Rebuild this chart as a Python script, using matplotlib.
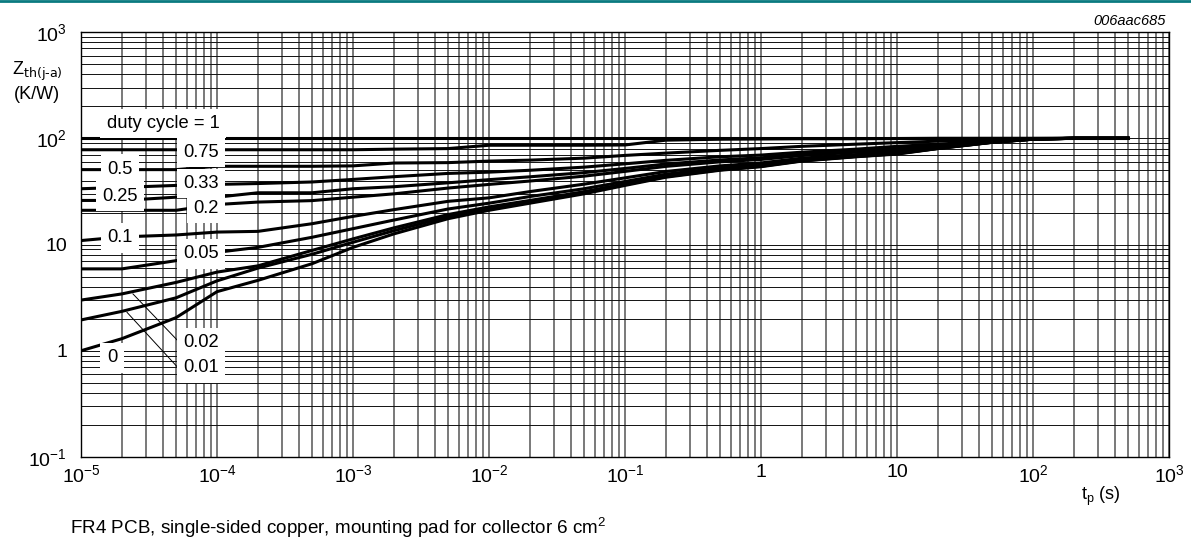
import matplotlib.pyplot as plt
from matplotlib.ticker import LogLocator, NullFormatter
from matplotlib.lines import Line2D

plt.rcParams['font.family'] = ['Liberation Sans', 'DejaVu Sans']
plt.rcParams['mathtext.default'] = 'regular'

# pulse duration (s)
tp = [1e-5, 2e-5, 5e-5, 1e-4, 2e-4, 5e-4, 1e-3, 2e-3, 5e-3, 1e-2, 2e-2, 5e-2,
      0.1, 0.2, 0.5, 1, 2, 5, 10, 20, 50, 100, 200, 500]

# Zth(j-a) in K/W, one list per duty cycle
z_1    = [100, 100, 100, 100, 100, 100, 100, 100, 100, 100, 100, 100,
          100, 100, 100, 100, 100, 100, 100, 100, 100, 100, 100, 100]
z_075  = [78, 78, 78, 78, 78, 78, 78, 79, 80, 86, 86, 86,
          86.5, 96, 98, 98.5, 99, 99, 99.5, 100, 100, 100, 100, 100]
z_05   = [50.7, 50.7, 50.7, 54.5, 54.5, 54.5, 55, 58.5, 59, 61, 62.3, 65,
          69, 72.5, 77, 80, 84, 88, 91, 94, 97, 99.5, 100, 100]
z_033  = [33.5, 34.5, 36, 36.8, 37.5, 38.8, 41, 43.5, 46.7, 48, 50, 53.5,
          57.5, 62, 67, 69.5, 74, 79, 84, 88, 94.5, 99, 100, 100]
z_025  = [26, 26, 27.9, 27.9, 30.7, 30.7, 33.5, 35, 38.1, 40.8, 43.4, 47.5,
          52, 57.3, 62.5, 65.5, 70.8, 76, 80, 86, 93.8, 98.6, 100, 100]
z_02   = [21, 21, 21, 23.8, 25.1, 25.9, 27.9, 30, 34, 36.8, 39.6, 44,
          48.8, 54.4, 60, 63.2, 68.8, 74, 78, 84.5, 93.3, 98.4, 100, 100]
z_01   = [10.9, 11.8, 12.3, 13.1, 13.3, 15.7, 18.4, 21.3, 25.5, 27.5, 31.5, 37,
          42.4, 48.7, 55, 58.6, 65, 70.3, 75, 82, 92.3, 98.2, 100, 100]
z_005  = [5.9, 5.9, 7.05, 8.45, 9.4, 11.7, 14.1, 17, 21.6, 24.5, 28.3, 33.5,
          39.2, 45.9, 52.5, 56.3, 63, 68.7, 73, 81, 92, 98.1, 100, 100]
z_002  = [3.0, 3.43, 4.4, 5.5, 6.3, 8.8, 11.3, 14.35, 19.15, 22.6, 26, 31.4,
          37.3, 44.1, 51, 54.9, 61.8, 67.7, 72, 80.4, 91.7, 98, 100, 100]
z_001  = [1.95, 2.35, 3.15, 4.55, 6.0, 8.1, 10.5, 13.5, 18.3, 21.8, 25.3, 30.8,
          36.6, 43.6, 50.5, 54.5, 61.4, 67.3, 71.5, 80.2, 91.6, 98, 100, 100]
z_0    = [1.0, 1.3, 2.05, 3.6, 4.6, 6.6, 9.4, 12.6, 17.5, 21, 24.5, 30,
          36, 43, 50, 54, 61, 67, 71, 80, 91.5, 98, 100, 100]

curves = [z_1, z_075, z_05, z_033, z_025, z_02, z_01, z_005, z_002, z_001, z_0]

xtick_vals = [1e-5, 1e-4, 1e-3, 1e-2, 1e-1, 1, 10, 1e2, 1e3]
xtick_labels = ['$10^{-5}$', '$10^{-4}$', '$10^{-3}$', '$10^{-2}$', '$10^{-1}$',
                '1', '10', '$10^2$', '$10^3$']
ytick_vals = [0.1, 1, 10, 100, 1000]
ytick_labels = ['$10^{-1}$', '1', '10', '$10^2$', '$10^3$']

# curve labels: text, x, y, alignment
labels = [
    ('duty cycle = 1', 1.55e-5, 138, 'left'),
    ('0.75', 1.03e-4, 74, 'right'),
    ('0.5', 1.94e-5, 51, 'center'),
    ('0.33', 1.03e-4, 37.6, 'right'),
    ('0.25', 1.94e-5, 28.4, 'center'),
    ('0.2', 1.03e-4, 21.9, 'right'),
    ('0.1', 1.94e-5, 11.6, 'center'),
    ('0.05', 1.03e-4, 8.2, 'right'),
    ('0.02', 1.03e-4, 1.19, 'right'),
    ('0.01', 1.03e-4, 0.69, 'right'),
    ('0', 1.55e-5, 0.86, 'left'),
]

fig = plt.figure(figsize=(11.91, 5.44), dpi=100)
ax = fig.add_axes([0.068, 0.1599, 0.9135, 0.7812])
ax.set_xscale('log')
ax.set_yscale('log')
ax.set_xlim(1e-5, 1e3)
ax.set_ylim(0.1, 1000)

ax.xaxis.set_minor_locator(LogLocator(base=10, subs=range(2, 10), numticks=100))
ax.yaxis.set_minor_locator(LogLocator(base=10, subs=range(2, 10), numticks=100))
ax.xaxis.set_minor_formatter(NullFormatter())
ax.yaxis.set_minor_formatter(NullFormatter())
ax.set_xticks(xtick_vals)
ax.set_xticklabels(xtick_labels)
ax.set_yticks(ytick_vals)
ax.set_yticklabels(ytick_labels)
ax.tick_params(which='both', length=0, labelsize=14)
ax.tick_params(axis='x', pad=5)
ax.tick_params(axis='y', pad=10)

ax.grid(which='both', axis='x', color='#555555', lw=1.1, zorder=0)
ax.grid(which='both', axis='y', color='#111111', lw=0.7, zorder=0)
ax.set_axisbelow(True)
for s in ax.spines.values():
    s.set_color('black')
    s.set_linewidth(1.0)

for z in curves:
    ax.plot(tp, z, color='black', lw=2.2, solid_joinstyle='miter', zorder=3)

# leader lines for 0.02 and 0.01
ax.plot([2.41e-5, 5.16e-5], [3.43, 1.24], color='black', lw=0.7, zorder=4)
ax.plot([2.18e-5, 5.16e-5], [2.3, 0.695], color='black', lw=0.7, zorder=4)

for txt, x, y, ha in labels:
    ax.text(x, y, txt, ha=ha, va='center', fontsize=13.2, zorder=5,
            bbox=dict(boxstyle='square,pad=0.35', facecolor='white', edgecolor='none'))

fig.text(0.031, 0.868, r'$Z_{\text{th(j-a)}}$', ha='center', va='center', fontsize=13)
fig.text(0.031, 0.826, '(K/W)', ha='center', va='center', fontsize=13)
fig.text(0.924, 0.087, '$t_p$ (s)', ha='center', va='center', fontsize=13)
fig.text(0.979, 0.962, '006aac685', ha='right', va='center', fontsize=10.5, style='italic')
fig.text(0.059, 0.030, 'FR4 PCB, single-sided copper, mounting pad for collector 6 cm$^2$',
         ha='left', va='center', fontsize=13.6)

fig.add_artist(Line2D([0, 1], [0.998, 0.998], color='#0a7a80', lw=2.0))

fig.savefig('out.png', dpi=100)
